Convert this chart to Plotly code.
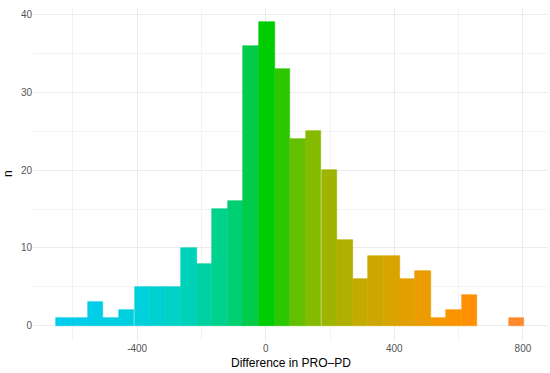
import plotly.graph_objects as go

# Histogram bins (centres) and counts
bin_centers = [-627, -578, -530, -481, -433, -384, -336, -287, -239, -190,
               -142, -93, -45, 4, 52, 101, 149, 198, 246, 295,
               343, 392, 440, 489, 537, 586, 634, 683, 731, 780]
counts = [1, 1, 3, 1, 2, 5, 5, 5, 10, 8,
          15, 16, 36, 39, 33, 24, 25, 20, 11, 6,
          9, 9, 6, 7, 1, 2, 4, 0, 0, 1]
bin_width = 48.5
x_ticks = [-400, 0, 400, 800]
y_ticks = [0, 10, 20, 30, 40]

# colour gradient stops (value, rgb)
stops = [(-650, (0, 204, 238)), (-400, (0, 208, 222)), (-250, (0, 210, 190)),
         (-100, (0, 208, 120)), (-40, (0, 204, 70)), (5, (0, 204, 0)),
         (60, (50, 198, 0)), (110, (110, 190, 0)), (200, (160, 180, 0)),
         (300, (196, 170, 0)), (420, (222, 162, 0)), (520, (240, 154, 0)),
         (620, (255, 145, 0)), (800, (255, 136, 51))]


def grad(v):
    if v <= stops[0][0]:
        c = stops[0][1]
    elif v >= stops[-1][0]:
        c = stops[-1][1]
    else:
        for (a, ca), (b, cb) in zip(stops[:-1], stops[1:]):
            if a <= v <= b:
                t = (v - a) / (b - a)
                c = tuple(round(ca[i] + t * (cb[i] - ca[i])) for i in range(3))
                break
    return "rgb(%d,%d,%d)" % c


colors = [grad(v) for v in bin_centers]
line_colors = [c if n > 0 else "rgba(0,0,0,0)" for c, n in zip(colors, counts)]

fig = go.Figure(go.Bar(
    x=bin_centers, y=counts, width=[bin_width] * len(counts),
    marker=dict(color=colors, line=dict(width=0.6, color=line_colors)),
    hoverinfo="x+y",
))

grid = "#EBEBEB"
fig.update_layout(
    width=550, height=373,
    margin=dict(l=33, r=2, t=7, b=32),
    paper_bgcolor="white", plot_bgcolor="white",
    showlegend=False, bargap=0,
    font=dict(family="Liberation Sans, Arial, sans-serif", color="#4D4D4D", size=10),
    xaxis=dict(
        range=[-724, 878], tickvals=x_ticks, ticktext=[str(v) for v in x_ticks],
        showgrid=True, gridcolor=grid, gridwidth=1, zeroline=False,
        showline=False, ticks="", ticklen=0, automargin=False,
        minor=dict(showgrid=True, gridcolor="#F3F3F3", gridwidth=0.6, tickvals=[-600, -200, 200, 600]),
        tickfont=dict(size=10, color="#555555"),
    ),
    yaxis=dict(
        range=[-1.95, 40.95], tickvals=y_ticks,
        showgrid=True, gridcolor=grid, gridwidth=1, zeroline=False,
        showline=False, ticks="", ticklen=0, automargin=False,
        minor=dict(showgrid=True, gridcolor="#F3F3F3", gridwidth=0.6, tickvals=[5, 15, 25, 35]),
        tickfont=dict(size=10, color="#555555"),
    ),
    annotations=[
        dict(text="Difference in PRO–PD", xref="paper", yref="paper", x=0.5, y=0,
             yshift=-22, xanchor="center", yanchor="middle", showarrow=False,
             font=dict(size=12, color="black")),
        dict(text="n", xref="paper", yref="paper", x=0, y=0.5, xshift=-25,
             xanchor="center", yanchor="middle", showarrow=False, textangle=-90,
             font=dict(size=12, color="black")),
    ],
)

fig.write_html("out.html", config={"displayModeBar": False},
               post_script="document.body.style.margin='0px';")
